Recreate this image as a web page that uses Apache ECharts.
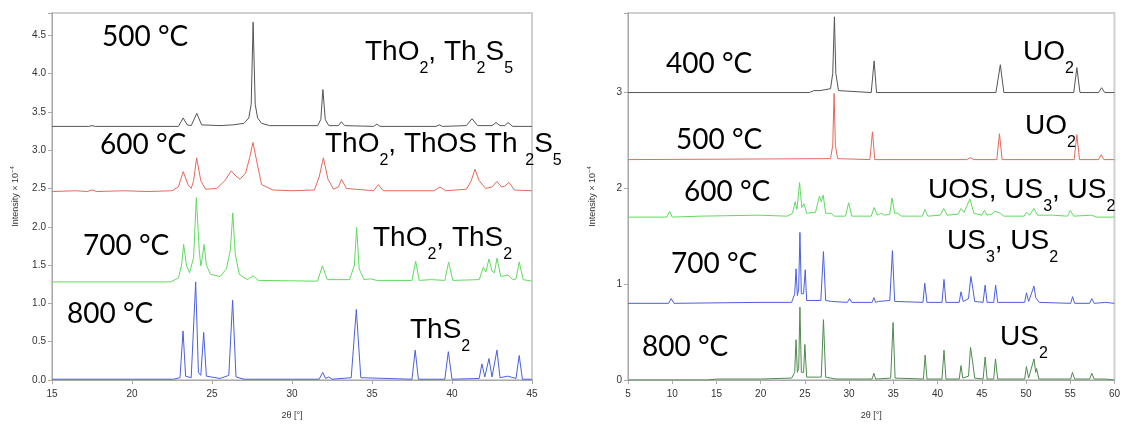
<!DOCTYPE html>
<html><head><meta charset="utf-8">
<script src="https://cdn.jsdelivr.net/npm/echarts@6/dist/echarts.min.js"></script>
<style>html,body{margin:0;padding:0;background:#fff}#c{width:1123px;height:425px}</style>
</head><body><div id="c"></div>
<script>
// ---- Left panel (Th): 2θ vs intensity ×10^-4 ----
const th500 = [[15,3.31],[17.3,3.31],[17.5,3.32],[17.7,3.31],[22.9,3.31],[23.2,3.42],[23.45,3.33],[23.7,3.32],[24.05,3.48],[24.35,3.33],[25.5,3.32],[26.3,3.33],[27.0,3.35],[27.3,3.42],[27.45,3.6],[27.57,4.67],[27.7,3.6],[27.85,3.42],[28.1,3.35],[28.6,3.32],[31.6,3.32],[31.8,3.4],[31.93,3.79],[32.08,3.4],[32.3,3.32],[32.9,3.32],[33.08,3.37],[33.3,3.32],[35.1,3.31],[35.3,3.34],[35.5,3.31],[39.0,3.31],[39.2,3.33],[39.4,3.31],[40.9,3.32],[41.25,3.41],[41.6,3.32],[42.5,3.32],[42.75,3.36],[43.0,3.32],[43.3,3.32],[43.5,3.36],[43.8,3.31],[45,3.31]];
const th600 = [[15,2.46],[16.5,2.47],[17.2,2.46],[17.5,2.48],[17.8,2.46],[19.5,2.47],[21,2.46],[22.5,2.47],[22.9,2.52],[23.2,2.72],[23.5,2.55],[23.7,2.5],[23.85,2.6],[24.04,2.90],[24.3,2.6],[24.6,2.49],[25.3,2.5],[25.8,2.6],[26.2,2.73],[26.5,2.66],[26.75,2.62],[27.1,2.7],[27.35,2.9],[27.56,3.10],[27.8,2.85],[28.1,2.55],[28.8,2.48],[30,2.47],[31.4,2.48],[31.7,2.65],[31.96,2.90],[32.25,2.62],[32.6,2.49],[32.9,2.52],[33.1,2.62],[33.4,2.5],[35.1,2.47],[35.4,2.55],[35.7,2.47],[37,2.47],[38.9,2.47],[39.25,2.52],[39.6,2.47],[40.9,2.49],[41.2,2.6],[41.44,2.75],[41.7,2.6],[42.1,2.5],[42.5,2.52],[42.8,2.59],[43.1,2.52],[43.3,2.53],[43.56,2.58],[43.9,2.48],[45,2.47]];
const th700 = [[15,1.28],[22.4,1.28],[22.9,1.33],[23.1,1.5],[23.23,1.77],[23.4,1.5],[23.6,1.4],[23.85,1.6],[24.02,2.38],[24.2,1.7],[24.3,1.49],[24.4,1.6],[24.5,1.77],[24.65,1.5],[24.9,1.38],[25.5,1.35],[25.9,1.45],[26.15,1.7],[26.3,2.18],[26.45,1.65],[26.7,1.38],[27.2,1.31],[27.57,1.36],[27.9,1.30],[31.6,1.29],[31.9,1.49],[32.2,1.31],[33.6,1.31],[33.9,1.5],[34.04,1.99],[34.2,1.45],[34.5,1.31],[34.9,1.32],[35.3,1.30],[37.5,1.30],[37.73,1.55],[37.95,1.30],[38.7,1.31],[39.55,1.30],[39.79,1.54],[40.05,1.30],[41.7,1.31],[41.96,1.47],[42.12,1.41],[42.31,1.58],[42.5,1.42],[42.65,1.40],[42.81,1.59],[43.05,1.35],[43.5,1.37],[43.8,1.31],[44.0,1.32],[44.2,1.54],[44.45,1.31],[45,1.29]];
const th800 = [[15,0.01],[22.6,0.01],[23.0,0.03],[23.19,0.64],[23.35,0.05],[23.7,0.03],[23.98,1.28],[24.15,0.1],[24.3,0.06],[24.48,0.62],[24.65,0.05],[25.5,0.02],[26.05,0.06],[26.29,1.04],[26.5,0.04],[27.0,0.01],[31.7,0.01],[31.92,0.10],[32.1,0.02],[32.3,0.04],[32.5,0.01],[33.7,0.03],[34.02,0.92],[34.3,0.03],[37.5,0.01],[37.7,0.39],[37.9,0.01],[38.6,0.01],[38.7,0.03],[38.8,0.01],[39.55,0.01],[39.77,0.37],[40.0,0.01],[41.7,0.02],[41.87,0.21],[42.05,0.04],[42.31,0.28],[42.5,0.04],[42.81,0.39],[43.0,0.03],[43.48,0.05],[44.0,0.02],[44.2,0.32],[44.4,0.01],[45,0.01]];
// ---- Right panel (U) ----
const u400 = [[5,3.0],[25.5,3.0],[26.0,3.02],[26.7,3.02],[27.9,3.04],[28.15,3.2],[28.34,3.79],[28.5,3.2],[28.8,3.02],[32.5,3.0],[32.83,3.33],[33.1,3.0],[46.6,3.0],[47.1,3.29],[47.5,3.0],[55.4,3.0],[55.75,3.26],[56.1,3.0],[58.2,3.0],[58.56,3.05],[58.9,3.0],[60,3.0]];
const u500 = [[5,2.30],[27.9,2.31],[28.15,2.45],[28.3,2.99],[28.45,2.45],[28.7,2.31],[32.35,2.30],[32.64,2.59],[32.9,2.30],[43.3,2.30],[43.7,2.32],[44.1,2.30],[46.7,2.30],[47.0,2.57],[47.3,2.30],[55.45,2.30],[55.75,2.56],[56.05,2.30],[58.2,2.30],[58.5,2.35],[58.8,2.30],[60,2.30]];
const u600 = [[5,1.70],[9.4,1.70],[9.72,1.76],[10.0,1.70],[13.2,1.71],[19.7,1.72],[23.0,1.71],[23.6,1.74],[23.9,1.86],[24.1,1.78],[24.4,2.06],[24.65,1.80],[24.9,1.84],[25.2,1.74],[26.2,1.75],[26.65,1.92],[26.85,1.86],[27.07,1.93],[27.35,1.74],[27.97,1.74],[28.3,1.71],[29.6,1.71],[29.95,1.85],[30.3,1.71],[32.5,1.71],[32.83,1.80],[33.2,1.72],[33.65,1.74],[34.0,1.72],[34.6,1.73],[34.85,1.90],[35.15,1.74],[35.5,1.74],[35.9,1.71],[38.3,1.71],[38.55,1.78],[38.9,1.71],[40.3,1.72],[40.7,1.79],[41.1,1.72],[42.3,1.73],[42.65,1.79],[43.0,1.75],[43.66,1.89],[44.1,1.74],[45.0,1.72],[45.3,1.77],[45.6,1.72],[46.1,1.73],[46.5,1.76],[47.1,1.74],[47.5,1.71],[49.8,1.71],[50.05,1.75],[50.4,1.72],[50.9,1.79],[51.3,1.72],[53.0,1.72],[54.7,1.71],[55.0,1.77],[55.4,1.71],[57.4,1.72],[58,1.70],[60,1.70]];
const u700 = [[5,0.80],[9.6,0.80],[9.88,0.85],[10.2,0.80],[19.7,0.81],[23.5,0.81],[23.85,0.9],[24.0,1.16],[24.15,0.88],[24.3,0.95],[24.44,1.54],[24.6,0.9],[24.85,0.9],[25.04,1.15],[25.2,0.83],[26.8,0.83],[27.1,1.34],[27.35,0.83],[28.0,0.82],[29.8,0.81],[30.05,0.85],[30.3,0.81],[32.6,0.81],[32.8,0.86],[33.0,0.81],[33.3,0.82],[34.6,0.83],[34.9,1.35],[35.15,0.82],[38.35,0.81],[38.55,1.01],[38.8,0.81],[40.5,0.81],[40.73,1.05],[40.95,0.81],[42.45,0.81],[42.65,0.92],[42.9,0.82],[43.5,0.85],[43.77,1.08],[44.0,0.95],[44.2,0.82],[45.15,0.81],[45.38,0.99],[45.6,0.81],[46.35,0.81],[46.57,0.99],[46.8,0.81],[49.85,0.81],[50.05,0.91],[50.3,0.82],[50.9,0.98],[51.1,0.86],[51.25,0.88],[51.5,0.81],[55.05,0.80],[55.27,0.87],[55.5,0.80],[57.2,0.80],[57.44,0.85],[57.7,0.80],[59.0,0.81],[60,0.80]];
const u800 = [[5,0.0],[14,0.0],[15,0.01],[20,0.01],[23.5,0.02],[23.85,0.08],[24.0,0.42],[24.15,0.08],[24.3,0.12],[24.44,0.76],[24.6,0.08],[24.85,0.08],[25.0,0.37],[25.2,0.03],[26.85,0.03],[27.1,0.63],[27.35,0.03],[28.5,0.01],[32.6,0.01],[32.8,0.07],[33.0,0.01],[33.2,0.02],[34.7,0.02],[34.97,0.60],[35.2,0.02],[38.4,0.01],[38.6,0.26],[38.8,0.01],[40.5,0.01],[40.73,0.31],[40.95,0.01],[42.45,0.01],[42.65,0.15],[42.85,0.02],[43.5,0.04],[43.73,0.34],[43.95,0.2],[44.2,0.02],[45.15,0.01],[45.38,0.24],[45.6,0.01],[46.35,0.01],[46.55,0.22],[46.8,0.01],[49.85,0.01],[50.05,0.14],[50.3,0.02],[50.9,0.22],[51.1,0.08],[51.2,0.12],[51.45,0.01],[55.05,0.01],[55.25,0.08],[55.5,0.01],[57.2,0.01],[57.44,0.07],[57.7,0.01],[59.0,0.01],[60,0.0]];

const xNameText = '2θ [°]';
const yNameText = 'Intensity × 10{sup|−4}';
const leftLabels = ['500 °C','{m|ThO}{s|2}{m|, Th}{s|2}{m|S}{s|5}','600 °C','{m|ThO}{s|2}{m|, ThOS Th }{s|2}{m|S}{s|5}','700 °C','{m|ThO}{s|2}{m|, ThS}{s|2}','800 °C','{m|ThS}{s|2}'];
const rightLabels = ['400 °C','{m|UO}{s|2}','500 °C','{m|UO}{s|2}','600 °C','{m|UOS, US}{s|3}{m|, US}{s|2}','700 °C','{m|US}{s|3}{m|, US}{s|2}','800 °C','{m|US}{s|2}'];

const C = {gray:'#555555', red:'#e8685a', green:'#5fdc5f', blue:'#4b5fe0', dkgreen:'#4f8a4f'};
const chart = echarts.init(document.getElementById('c'), null, {renderer:'canvas'});
const axisFont = {fontFamily:'Liberation Sans, Arial, sans-serif', fontSize:10, color:'#333'};
function xAx(idx, min, max){ return {gridIndex:idx, type:'value', min, max, interval:5,
  name:xNameText, nameLocation:'middle', nameGap:31, nameTextStyle:{fontFamily:'Liberation Sans, Arial', fontSize:9, color:'#333'},
  axisLine:{onZero:false, lineStyle:{color:'#aaa', width:1}}, axisTick:{length:4, lineStyle:{color:'#aaa'}},
  axisLabel:Object.assign({margin:9}, axisFont), splitLine:{show:false}}; }
function yAx(idx, max, interval, dec){ return {gridIndex:idx, type:'value', min:0, max, interval,
  name:yNameText, nameLocation:'middle', nameGap: idx===0?30:29,
  nameTextStyle:{fontFamily:'Liberation Sans, Arial', fontSize:9, color:'#333', rich:{sup:{fontSize:6, padding:[0,0,7,0], verticalAlign:'middle'}}},
  axisLine:{show:true, lineStyle:{color:'#aaa', width:1}}, axisTick:{show:true, length:4, lineStyle:{color:'#aaa'}},
  axisLabel:Object.assign({margin:6, formatter:v=> (Math.abs(v/interval-Math.round(v/interval))>1e-6)?'':v.toFixed(dec)}, axisFont),
  splitLine:{show:false}}; }
function ser(data, color, xi){ return {type:'line', xAxisIndex:xi, yAxisIndex:xi, data, showSymbol:false, symbol:'none', smooth:false,
  lineStyle:{color, width:1}, silent:true, animation:false}; }

const richStyle = {m:{fontSize:28, lineHeight:34, verticalAlign:'middle'}, s:{fontSize:16, lineHeight:16, padding:[34,0,0,0], verticalAlign:'middle'}};
const lPos = [[102,37],[365,52],[100,145],[325,144],[83,246],[373,238],[67,314],[410,330]];
const rPos = [[666,64],[1023,52],[676,140],[1025,126],[684,192],[928,190],[671,264],[947,241],[642,347],[1000,337]];
const graphics = [];
leftLabels.forEach((t,i)=>graphics.push({type:'text', x:lPos[i][0], y:lPos[i][1], z:100, style:{text:t, fontFamily:'Lato, sans-serif', fontSize:28, fill:'#000', rich:richStyle, verticalAlign:'middle', align:'left'}}));
rightLabels.forEach((t,i)=>graphics.push({type:'text', x:rPos[i][0], y:rPos[i][1], z:100, style:{text:t, fontFamily:'Lato, sans-serif', fontSize:28, fill:'#000', rich:richStyle, verticalAlign:'middle', align:'left'}}));

chart.setOption({
  animation:false,
  backgroundColor:'#fff',
  grid:[
    {left:52, top:13, width:480, height:370, show:true, borderColor:'#d0d0d0', borderWidth:2, backgroundColor:'transparent'},
    {left:628, top:13, width:490, height:370, show:true, borderColor:'#d0d0d0', borderWidth:2, backgroundColor:'transparent'}
  ],
  xAxis:[xAx(0,15,45), xAx(1,5,60)],
  yAxis:[yAx(0,4.79,0.5,1), yAx(1,3.83,1,0)],
  series:[
    ser(th500,C.gray,0), ser(th600,C.red,0), ser(th700,C.green,0), ser(th800,C.blue,0),
    ser(u400,C.gray,1), ser(u500,C.red,1), ser(u600,C.green,1), ser(u700,C.blue,1), ser(u800,C.dkgreen,1)
  ],
  graphic:graphics
});
</script></body></html>
